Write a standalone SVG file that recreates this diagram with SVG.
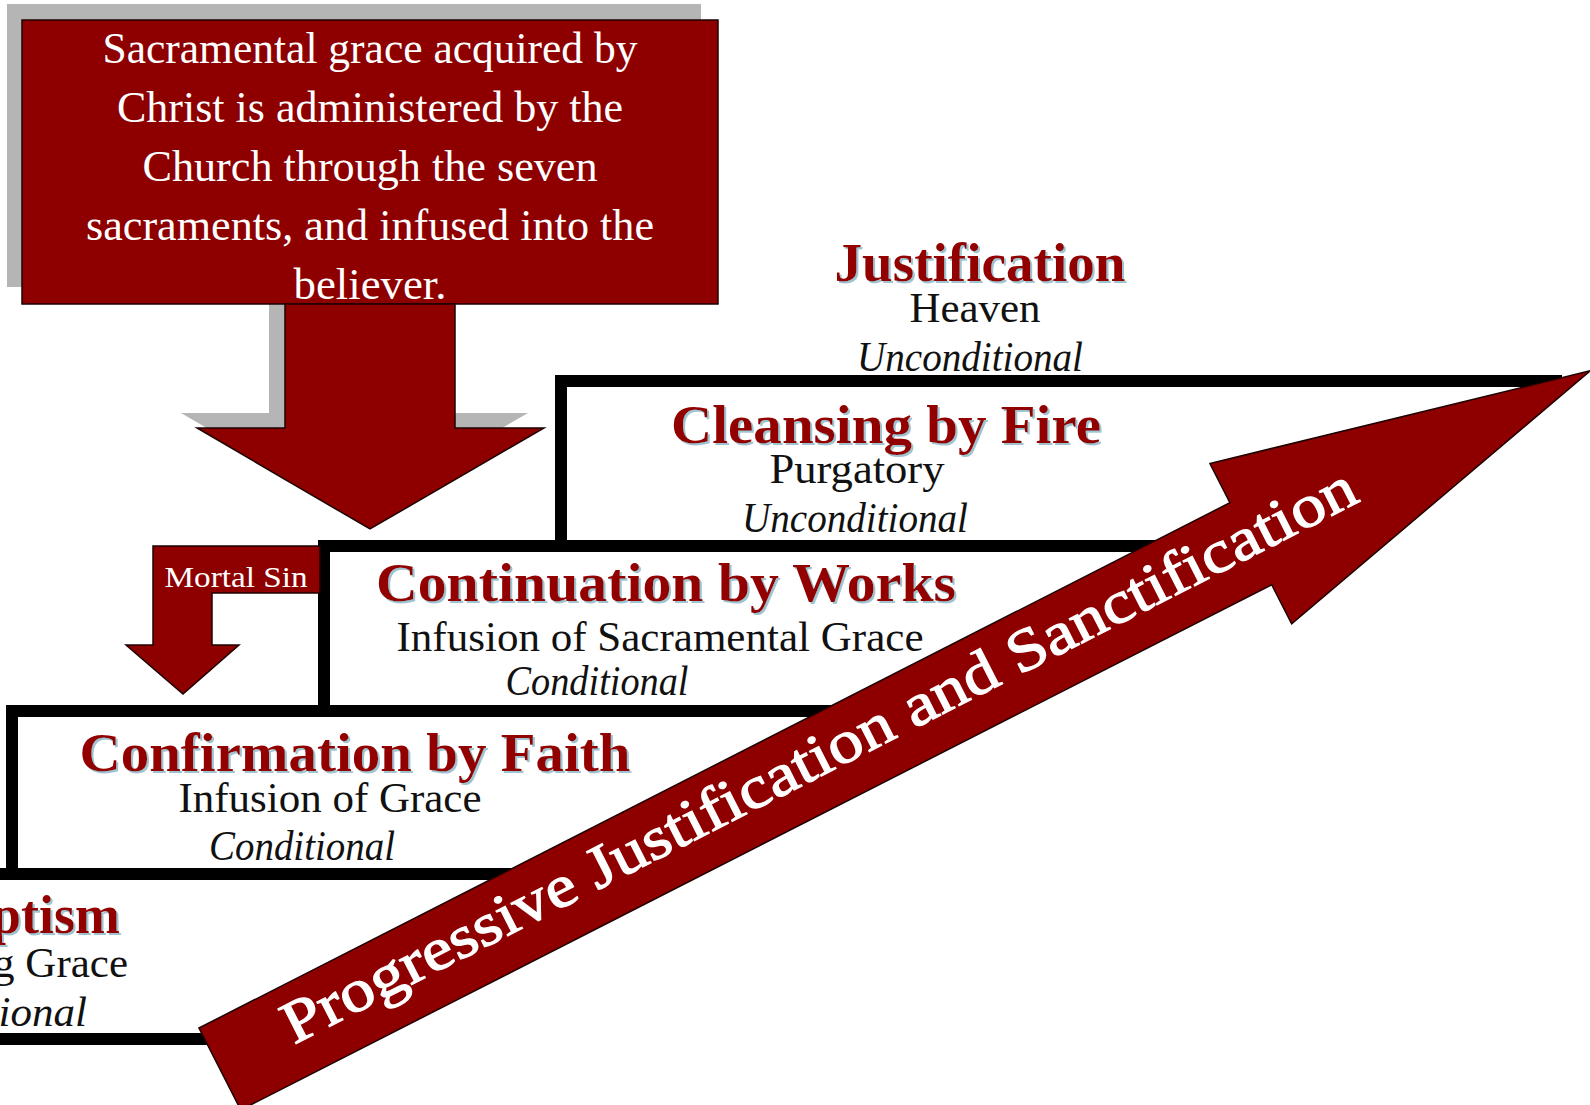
<svg xmlns="http://www.w3.org/2000/svg" width="1590" height="1105" viewBox="0 0 1590 1105">
<defs>
<style>
.red{fill:#8e0000;stroke:#1e0000;stroke-width:1.5;stroke-linejoin:miter}
.shadow{fill:#b5b5b5}
.step{fill:none;stroke:#000;stroke-width:12;stroke-linejoin:miter;stroke-linecap:butt}
.title{font-family:"Liberation Serif",serif;font-weight:bold;font-size:54px;fill:#920606;text-anchor:middle;filter:url(#ts)}
.sub{font-family:"Liberation Serif",serif;font-size:43px;fill:#111;text-anchor:middle}
.ital{font-style:italic}
.white{font-family:"Liberation Serif",serif;fill:#fff;text-anchor:middle}
.end{text-anchor:end}
</style>
<filter id="ts" x="-5%" y="-20%" width="110%" height="150%">
<feDropShadow dx="2" dy="2" stdDeviation="0.6" flood-color="#86b6c6" flood-opacity="0.8"/>
</filter>
</defs>
<rect x="0" y="0" width="1590" height="1105" fill="#fff"/>

<g id="steps">
<path class="step" d="M561,546 V381 H1562"/>
<path class="step" d="M324,711 V546 H1200"/>
<path class="step" d="M12,874 V711 H950"/>
<path class="step" d="M-10,874 H650"/>
<path class="step" d="M-10,1039 H260"/>
</g>

<g id="node-justification">
<text class="title" x="980" y="281" textLength="291" lengthAdjust="spacingAndGlyphs">Justification</text>
<text class="sub" x="975" y="322" textLength="131" lengthAdjust="spacingAndGlyphs">Heaven</text>
<text class="sub ital" x="970" y="371" textLength="226" lengthAdjust="spacingAndGlyphs">Unconditional</text>
</g>

<g id="node-cleansing">
<text class="title" x="886" y="443" textLength="430" lengthAdjust="spacingAndGlyphs">Cleansing by Fire</text>
<text class="sub" x="857" y="483" textLength="175" lengthAdjust="spacingAndGlyphs">Purgatory</text>
<text class="sub ital" x="855" y="532" textLength="226" lengthAdjust="spacingAndGlyphs">Unconditional</text>
</g>

<g id="node-continuation">
<text class="title" x="666" y="601" textLength="580" lengthAdjust="spacingAndGlyphs">Continuation by Works</text>
<text class="sub" x="660" y="651" textLength="527" lengthAdjust="spacingAndGlyphs">Infusion of Sacramental Grace</text>
<text class="sub ital" x="597" y="695" textLength="183" lengthAdjust="spacingAndGlyphs">Conditional</text>
</g>

<g id="node-confirmation">
<text class="title" x="355" y="771" textLength="551" lengthAdjust="spacingAndGlyphs">Confirmation by Faith</text>
<text class="sub" x="330" y="812" textLength="303" lengthAdjust="spacingAndGlyphs">Infusion of Grace</text>
<text class="sub ital" x="302" y="860" textLength="186" lengthAdjust="spacingAndGlyphs">Conditional</text>
</g>

<g id="node-baptism">
<text class="title end" x="120" y="933">ptism</text>
<text class="sub end" x="128" y="977">g Grace</text>
<text class="sub ital end" x="87" y="1026">tional</text>
</g>

<g id="node-grace-box">
<rect class="shadow" x="7" y="4" width="694" height="283"/>
<path class="shadow" transform="translate(-16,-15)" d="M285,304 H455 V428 H544 L370,529 L197,428 H285 Z"/>
<rect class="red" x="22" y="20" width="696" height="284"/>
<g class="white" font-size="44">
<text x="370" y="63" textLength="535" lengthAdjust="spacingAndGlyphs">Sacramental grace acquired by</text>
<text x="370" y="122" textLength="506" lengthAdjust="spacingAndGlyphs">Christ is administered by the</text>
<text x="370" y="181" textLength="455" lengthAdjust="spacingAndGlyphs">Church through the seven</text>
<text x="370" y="240" textLength="568" lengthAdjust="spacingAndGlyphs">sacraments, and infused into the</text>
<text x="370" y="299" textLength="153" lengthAdjust="spacingAndGlyphs">believer.</text>
</g>
</g>

<g id="connectors">
<path id="grace-arrow" class="red" d="M285,304 H455 V428 H544 L370,529 L197,428 H285 Z"/>
<g id="node-mortal-sin">
<path class="red" d="M153,546 H320 V593 H212 V645 H239 L183,694 L126,645 H153 Z"/>
<text class="white" x="236" y="587" font-size="30" textLength="143" lengthAdjust="spacingAndGlyphs">Mortal Sin</text>
</g>
</g>

<g id="progress-arrow" transform="translate(199,1028) rotate(-27)">
<path class="red" d="M0,0 H1157 V-44 L1538,46 L1157,136 V92 H0 Z"/>
<text class="white" x="676" y="58" font-size="60" stroke="#fff" stroke-width="1.2" textLength="1198" lengthAdjust="spacingAndGlyphs">Progressive Justification and Sanctification</text>
</g>
</svg>
